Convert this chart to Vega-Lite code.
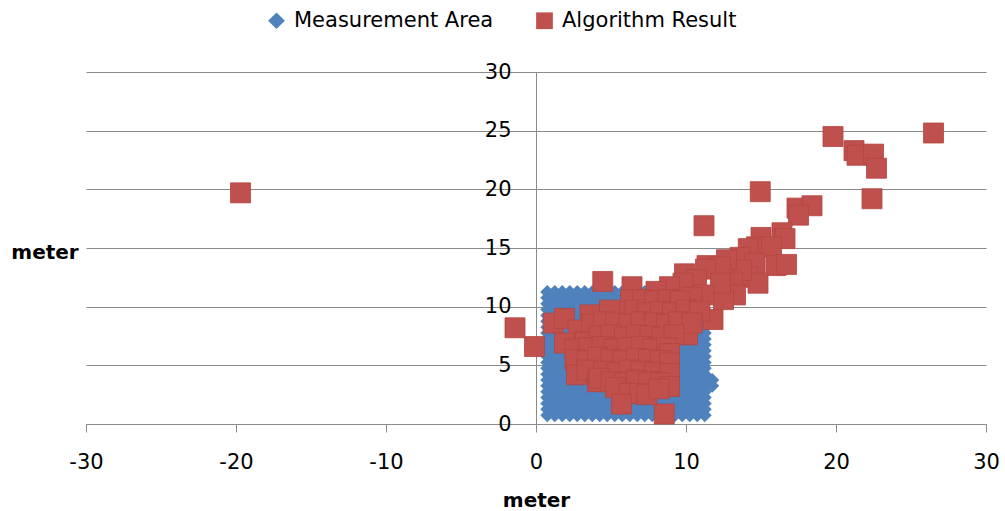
{
"$schema": "https://vega.github.io/schema/vega-lite/v6.json",
"width": 900, "height": 352,
"autosize": {"type": "none"},
"padding": {"left": 86, "top": 72, "right": 19, "bottom": 87},
"background": "white",
"config": {"view": {"stroke": null}, "font": "DejaVu Sans",
 "legend": {"orient": "none", "legendX": 180, "legendY": -62, "direction": "horizontal", "title": null, "symbolSize": 280, "labelFontSize": 21, "labelFont": "DejaVu Sans", "labelColor": "#000000", "labelOffset": 7, "labelLimit": 0, "columnPadding": 40, "padding": 0, "symbolStrokeWidth": 0, "symbolOpacity": 1}},
"datasets": {
"area": [
{"x":0.75,"y":0.75},{"x":1.25,"y":0.75},{"x":1.75,"y":0.75},{"x":2.25,"y":0.75},{"x":2.75,"y":0.75},{"x":3.25,"y":0.75},{"x":3.75,"y":0.75},{"x":4.25,"y":0.75},{"x":4.75,"y":0.75},{"x":5.25,"y":0.75},{"x":5.75,"y":0.75},{"x":6.25,"y":0.75},{"x":6.75,"y":0.75},{"x":7.25,"y":0.75},{"x":7.75,"y":0.75},{"x":8.25,"y":0.75},{"x":8.75,"y":0.75},{"x":9.25,"y":0.75},{"x":9.75,"y":0.75},{"x":10.25,"y":0.75},{"x":10.75,"y":0.75},{"x":11.25,"y":0.75},
{"x":0.75,"y":1.25},{"x":1.25,"y":1.25},{"x":1.75,"y":1.25},{"x":2.25,"y":1.25},{"x":2.75,"y":1.25},{"x":3.25,"y":1.25},{"x":3.75,"y":1.25},{"x":4.25,"y":1.25},{"x":4.75,"y":1.25},{"x":5.25,"y":1.25},{"x":5.75,"y":1.25},{"x":6.25,"y":1.25},{"x":6.75,"y":1.25},{"x":7.25,"y":1.25},{"x":7.75,"y":1.25},{"x":8.25,"y":1.25},{"x":8.75,"y":1.25},{"x":9.25,"y":1.25},{"x":9.75,"y":1.25},{"x":10.25,"y":1.25},{"x":10.75,"y":1.25},{"x":11.25,"y":1.25},
{"x":0.75,"y":1.75},{"x":1.25,"y":1.75},{"x":1.75,"y":1.75},{"x":2.25,"y":1.75},{"x":2.75,"y":1.75},{"x":3.25,"y":1.75},{"x":3.75,"y":1.75},{"x":4.25,"y":1.75},{"x":4.75,"y":1.75},{"x":5.25,"y":1.75},{"x":5.75,"y":1.75},{"x":6.25,"y":1.75},{"x":6.75,"y":1.75},{"x":7.25,"y":1.75},{"x":7.75,"y":1.75},{"x":8.25,"y":1.75},{"x":8.75,"y":1.75},{"x":9.25,"y":1.75},{"x":9.75,"y":1.75},{"x":10.25,"y":1.75},{"x":10.75,"y":1.75},{"x":11.25,"y":1.75},
{"x":0.75,"y":2.25},{"x":1.25,"y":2.25},{"x":1.75,"y":2.25},{"x":2.25,"y":2.25},{"x":2.75,"y":2.25},{"x":3.25,"y":2.25},{"x":3.75,"y":2.25},{"x":4.25,"y":2.25},{"x":4.75,"y":2.25},{"x":5.25,"y":2.25},{"x":5.75,"y":2.25},{"x":6.25,"y":2.25},{"x":6.75,"y":2.25},{"x":7.25,"y":2.25},{"x":7.75,"y":2.25},{"x":8.25,"y":2.25},{"x":8.75,"y":2.25},{"x":9.25,"y":2.25},{"x":9.75,"y":2.25},{"x":10.25,"y":2.25},{"x":10.75,"y":2.25},{"x":11.25,"y":2.25},
{"x":0.75,"y":2.75},{"x":1.25,"y":2.75},{"x":1.75,"y":2.75},{"x":2.25,"y":2.75},{"x":2.75,"y":2.75},{"x":3.25,"y":2.75},{"x":3.75,"y":2.75},{"x":4.25,"y":2.75},{"x":4.75,"y":2.75},{"x":5.25,"y":2.75},{"x":5.75,"y":2.75},{"x":6.25,"y":2.75},{"x":6.75,"y":2.75},{"x":7.25,"y":2.75},{"x":7.75,"y":2.75},{"x":8.25,"y":2.75},{"x":8.75,"y":2.75},{"x":9.25,"y":2.75},{"x":9.75,"y":2.75},{"x":10.25,"y":2.75},{"x":10.75,"y":2.75},{"x":11.25,"y":2.75},
{"x":0.75,"y":3.25},{"x":1.25,"y":3.25},{"x":1.75,"y":3.25},{"x":2.25,"y":3.25},{"x":2.75,"y":3.25},{"x":3.25,"y":3.25},{"x":3.75,"y":3.25},{"x":4.25,"y":3.25},{"x":4.75,"y":3.25},{"x":5.25,"y":3.25},{"x":5.75,"y":3.25},{"x":6.25,"y":3.25},{"x":6.75,"y":3.25},{"x":7.25,"y":3.25},{"x":7.75,"y":3.25},{"x":8.25,"y":3.25},{"x":8.75,"y":3.25},{"x":9.25,"y":3.25},{"x":9.75,"y":3.25},{"x":10.25,"y":3.25},{"x":10.75,"y":3.25},{"x":11.25,"y":3.25},
{"x":0.75,"y":3.75},{"x":1.25,"y":3.75},{"x":1.75,"y":3.75},{"x":2.25,"y":3.75},{"x":2.75,"y":3.75},{"x":3.25,"y":3.75},{"x":3.75,"y":3.75},{"x":4.25,"y":3.75},{"x":4.75,"y":3.75},{"x":5.25,"y":3.75},{"x":5.75,"y":3.75},{"x":6.25,"y":3.75},{"x":6.75,"y":3.75},{"x":7.25,"y":3.75},{"x":7.75,"y":3.75},{"x":8.25,"y":3.75},{"x":8.75,"y":3.75},{"x":9.25,"y":3.75},{"x":9.75,"y":3.75},{"x":10.25,"y":3.75},{"x":10.75,"y":3.75},{"x":11.25,"y":3.75},
{"x":0.75,"y":4.25},{"x":1.25,"y":4.25},{"x":1.75,"y":4.25},{"x":2.25,"y":4.25},{"x":2.75,"y":4.25},{"x":3.25,"y":4.25},{"x":3.75,"y":4.25},{"x":4.25,"y":4.25},{"x":4.75,"y":4.25},{"x":5.25,"y":4.25},{"x":5.75,"y":4.25},{"x":6.25,"y":4.25},{"x":6.75,"y":4.25},{"x":7.25,"y":4.25},{"x":7.75,"y":4.25},{"x":8.25,"y":4.25},{"x":8.75,"y":4.25},{"x":9.25,"y":4.25},{"x":9.75,"y":4.25},{"x":10.25,"y":4.25},{"x":10.75,"y":4.25},{"x":11.25,"y":4.25},
{"x":0.75,"y":4.75},{"x":1.25,"y":4.75},{"x":1.75,"y":4.75},{"x":2.25,"y":4.75},{"x":2.75,"y":4.75},{"x":3.25,"y":4.75},{"x":3.75,"y":4.75},{"x":4.25,"y":4.75},{"x":4.75,"y":4.75},{"x":5.25,"y":4.75},{"x":5.75,"y":4.75},{"x":6.25,"y":4.75},{"x":6.75,"y":4.75},{"x":7.25,"y":4.75},{"x":7.75,"y":4.75},{"x":8.25,"y":4.75},{"x":8.75,"y":4.75},{"x":9.25,"y":4.75},{"x":9.75,"y":4.75},{"x":10.25,"y":4.75},{"x":10.75,"y":4.75},{"x":11.25,"y":4.75},
{"x":0.75,"y":5.25},{"x":1.25,"y":5.25},{"x":1.75,"y":5.25},{"x":2.25,"y":5.25},{"x":2.75,"y":5.25},{"x":3.25,"y":5.25},{"x":3.75,"y":5.25},{"x":4.25,"y":5.25},{"x":4.75,"y":5.25},{"x":5.25,"y":5.25},{"x":5.75,"y":5.25},{"x":6.25,"y":5.25},{"x":6.75,"y":5.25},{"x":7.25,"y":5.25},{"x":7.75,"y":5.25},{"x":8.25,"y":5.25},{"x":8.75,"y":5.25},{"x":9.25,"y":5.25},{"x":9.75,"y":5.25},{"x":10.25,"y":5.25},{"x":10.75,"y":5.25},{"x":11.25,"y":5.25},
{"x":0.75,"y":5.75},{"x":1.25,"y":5.75},{"x":1.75,"y":5.75},{"x":2.25,"y":5.75},{"x":2.75,"y":5.75},{"x":3.25,"y":5.75},{"x":3.75,"y":5.75},{"x":4.25,"y":5.75},{"x":4.75,"y":5.75},{"x":5.25,"y":5.75},{"x":5.75,"y":5.75},{"x":6.25,"y":5.75},{"x":6.75,"y":5.75},{"x":7.25,"y":5.75},{"x":7.75,"y":5.75},{"x":8.25,"y":5.75},{"x":8.75,"y":5.75},{"x":9.25,"y":5.75},{"x":9.75,"y":5.75},{"x":10.25,"y":5.75},{"x":10.75,"y":5.75},{"x":11.25,"y":5.75},
{"x":0.75,"y":6.25},{"x":1.25,"y":6.25},{"x":1.75,"y":6.25},{"x":2.25,"y":6.25},{"x":2.75,"y":6.25},{"x":3.25,"y":6.25},{"x":3.75,"y":6.25},{"x":4.25,"y":6.25},{"x":4.75,"y":6.25},{"x":5.25,"y":6.25},{"x":5.75,"y":6.25},{"x":6.25,"y":6.25},{"x":6.75,"y":6.25},{"x":7.25,"y":6.25},{"x":7.75,"y":6.25},{"x":8.25,"y":6.25},{"x":8.75,"y":6.25},{"x":9.25,"y":6.25},{"x":9.75,"y":6.25},{"x":10.25,"y":6.25},{"x":10.75,"y":6.25},{"x":11.25,"y":6.25},
{"x":0.75,"y":6.75},{"x":1.25,"y":6.75},{"x":1.75,"y":6.75},{"x":2.25,"y":6.75},{"x":2.75,"y":6.75},{"x":3.25,"y":6.75},{"x":3.75,"y":6.75},{"x":4.25,"y":6.75},{"x":4.75,"y":6.75},{"x":5.25,"y":6.75},{"x":5.75,"y":6.75},{"x":6.25,"y":6.75},{"x":6.75,"y":6.75},{"x":7.25,"y":6.75},{"x":7.75,"y":6.75},{"x":8.25,"y":6.75},{"x":8.75,"y":6.75},{"x":9.25,"y":6.75},{"x":9.75,"y":6.75},{"x":10.25,"y":6.75},{"x":10.75,"y":6.75},{"x":11.25,"y":6.75},
{"x":0.75,"y":7.25},{"x":1.25,"y":7.25},{"x":1.75,"y":7.25},{"x":2.25,"y":7.25},{"x":2.75,"y":7.25},{"x":3.25,"y":7.25},{"x":3.75,"y":7.25},{"x":4.25,"y":7.25},{"x":4.75,"y":7.25},{"x":5.25,"y":7.25},{"x":5.75,"y":7.25},{"x":6.25,"y":7.25},{"x":6.75,"y":7.25},{"x":7.25,"y":7.25},{"x":7.75,"y":7.25},{"x":8.25,"y":7.25},{"x":8.75,"y":7.25},{"x":9.25,"y":7.25},{"x":9.75,"y":7.25},{"x":10.25,"y":7.25},{"x":10.75,"y":7.25},{"x":11.25,"y":7.25},
{"x":0.75,"y":7.75},{"x":1.25,"y":7.75},{"x":1.75,"y":7.75},{"x":2.25,"y":7.75},{"x":2.75,"y":7.75},{"x":3.25,"y":7.75},{"x":3.75,"y":7.75},{"x":4.25,"y":7.75},{"x":4.75,"y":7.75},{"x":5.25,"y":7.75},{"x":5.75,"y":7.75},{"x":6.25,"y":7.75},{"x":6.75,"y":7.75},{"x":7.25,"y":7.75},{"x":7.75,"y":7.75},{"x":8.25,"y":7.75},{"x":8.75,"y":7.75},{"x":9.25,"y":7.75},{"x":9.75,"y":7.75},{"x":10.25,"y":7.75},{"x":10.75,"y":7.75},{"x":11.25,"y":7.75},
{"x":0.75,"y":8.25},{"x":1.25,"y":8.25},{"x":1.75,"y":8.25},{"x":2.25,"y":8.25},{"x":2.75,"y":8.25},{"x":3.25,"y":8.25},{"x":3.75,"y":8.25},{"x":4.25,"y":8.25},{"x":4.75,"y":8.25},{"x":5.25,"y":8.25},{"x":5.75,"y":8.25},{"x":6.25,"y":8.25},{"x":6.75,"y":8.25},{"x":7.25,"y":8.25},{"x":7.75,"y":8.25},{"x":8.25,"y":8.25},{"x":8.75,"y":8.25},{"x":9.25,"y":8.25},{"x":9.75,"y":8.25},{"x":10.25,"y":8.25},{"x":10.75,"y":8.25},{"x":11.25,"y":8.25},
{"x":0.75,"y":8.75},{"x":1.25,"y":8.75},{"x":1.75,"y":8.75},{"x":2.25,"y":8.75},{"x":2.75,"y":8.75},{"x":3.25,"y":8.75},{"x":3.75,"y":8.75},{"x":4.25,"y":8.75},{"x":4.75,"y":8.75},{"x":5.25,"y":8.75},{"x":5.75,"y":8.75},{"x":6.25,"y":8.75},{"x":6.75,"y":8.75},{"x":7.25,"y":8.75},{"x":7.75,"y":8.75},{"x":8.25,"y":8.75},{"x":8.75,"y":8.75},{"x":9.25,"y":8.75},{"x":9.75,"y":8.75},{"x":10.25,"y":8.75},{"x":10.75,"y":8.75},{"x":11.25,"y":8.75},
{"x":0.75,"y":9.25},{"x":1.25,"y":9.25},{"x":1.75,"y":9.25},{"x":2.25,"y":9.25},{"x":2.75,"y":9.25},{"x":3.25,"y":9.25},{"x":3.75,"y":9.25},{"x":4.25,"y":9.25},{"x":4.75,"y":9.25},{"x":5.25,"y":9.25},{"x":5.75,"y":9.25},{"x":6.25,"y":9.25},{"x":6.75,"y":9.25},{"x":7.25,"y":9.25},{"x":7.75,"y":9.25},{"x":8.25,"y":9.25},{"x":8.75,"y":9.25},{"x":9.25,"y":9.25},{"x":9.75,"y":9.25},{"x":10.25,"y":9.25},{"x":10.75,"y":9.25},{"x":11.25,"y":9.25},
{"x":0.75,"y":9.75},{"x":1.25,"y":9.75},{"x":1.75,"y":9.75},{"x":2.25,"y":9.75},{"x":2.75,"y":9.75},{"x":3.25,"y":9.75},{"x":3.75,"y":9.75},{"x":4.25,"y":9.75},{"x":4.75,"y":9.75},{"x":5.25,"y":9.75},{"x":5.75,"y":9.75},{"x":6.25,"y":9.75},{"x":6.75,"y":9.75},{"x":7.25,"y":9.75},{"x":7.75,"y":9.75},{"x":8.25,"y":9.75},{"x":8.75,"y":9.75},{"x":9.25,"y":9.75},{"x":9.75,"y":9.75},{"x":10.25,"y":9.75},{"x":10.75,"y":9.75},{"x":11.25,"y":9.75},
{"x":0.75,"y":10.25},{"x":1.25,"y":10.25},{"x":1.75,"y":10.25},{"x":2.25,"y":10.25},{"x":2.75,"y":10.25},{"x":3.25,"y":10.25},{"x":3.75,"y":10.25},{"x":4.25,"y":10.25},{"x":4.75,"y":10.25},{"x":5.25,"y":10.25},{"x":5.75,"y":10.25},{"x":6.25,"y":10.25},{"x":6.75,"y":10.25},{"x":7.25,"y":10.25},{"x":7.75,"y":10.25},{"x":8.25,"y":10.25},{"x":8.75,"y":10.25},{"x":9.25,"y":10.25},{"x":9.75,"y":10.25},{"x":10.25,"y":10.25},{"x":10.75,"y":10.25},{"x":11.25,"y":10.25},
{"x":0.75,"y":10.75},{"x":1.25,"y":10.75},{"x":1.75,"y":10.75},{"x":2.25,"y":10.75},{"x":2.75,"y":10.75},{"x":3.25,"y":10.75},{"x":3.75,"y":10.75},{"x":4.25,"y":10.75},{"x":4.75,"y":10.75},{"x":5.25,"y":10.75},{"x":5.75,"y":10.75},{"x":6.25,"y":10.75},{"x":6.75,"y":10.75},{"x":7.25,"y":10.75},{"x":7.75,"y":10.75},{"x":8.25,"y":10.75},{"x":8.75,"y":10.75},{"x":9.25,"y":10.75},{"x":9.75,"y":10.75},{"x":10.25,"y":10.75},{"x":10.75,"y":10.75},{"x":11.25,"y":10.75},
{"x":0.75,"y":11.25},{"x":1.25,"y":11.25},{"x":1.75,"y":11.25},{"x":2.25,"y":11.25},{"x":2.75,"y":11.25},{"x":3.25,"y":11.25},{"x":3.75,"y":11.25},{"x":4.25,"y":11.25},{"x":4.75,"y":11.25},{"x":5.25,"y":11.25},{"x":5.75,"y":11.25},{"x":6.25,"y":11.25},{"x":6.75,"y":11.25},{"x":7.25,"y":11.25},{"x":7.75,"y":11.25},{"x":8.25,"y":11.25},{"x":8.75,"y":11.25},{"x":9.25,"y":11.25},{"x":9.75,"y":11.25},{"x":10.25,"y":11.25},{"x":10.75,"y":11.25},{"x":11.25,"y":11.25},
{"x":11.75,"y":3.25},{"x":11.75,"y":3.75}
],
"result": [
{"x":-19.7,"y":19.7},{"x":-1.4,"y":8.2},{"x":-0.1,"y":6.6},{"x":4.45,"y":12.15},{"x":11.2,"y":16.9},{"x":14.95,"y":19.8},{"x":19.8,"y":24.5},{"x":26.5,"y":24.8},{"x":21.2,"y":23.3},{"x":21.4,"y":22.9},{"x":22.5,"y":23.0},{"x":22.7,"y":21.8},{"x":22.4,"y":19.2},{"x":17.4,"y":18.4},{"x":18.4,"y":18.6},{"x":17.5,"y":17.8},{"x":16.4,"y":16.3},{"x":16.6,"y":15.8},{"x":15.0,"y":15.9},{"x":14.7,"y":15.1},{"x":15.7,"y":15.1},{"x":14.15,"y":14.95},{"x":13.6,"y":14.2},{"x":14.6,"y":13.7},{"x":16.0,"y":13.5},{"x":16.7,"y":13.6},{"x":14.1,"y":12.5},{"x":14.8,"y":12.0},{"x":13.7,"y":13.1},{"x":13.1,"y":12.1},{"x":12.7,"y":14.0},{"x":11.4,"y":13.5},{"x":12.3,"y":13.4},{"x":11.3,"y":13.2},{"x":13.3,"y":11.0},{"x":12.5,"y":10.6},{"x":12.3,"y":12.0},{"x":9.9,"y":12.8},{"x":10.7,"y":12.3},{"x":9.8,"y":12.0},{"x":8.9,"y":11.7},{"x":8.0,"y":11.3},{"x":6.4,"y":11.7},{"x":11.2,"y":11.0},{"x":10.4,"y":10.8},{"x":11.8,"y":8.9},{"x":10.1,"y":7.6},
{"x":6.3,"y":10.6},{"x":7.1,"y":10.6},{"x":7.9,"y":10.5},{"x":8.8,"y":10.6},{"x":9.6,"y":10.5},
{"x":5.7,"y":9.6},{"x":6.6,"y":9.7},{"x":7.4,"y":9.5},{"x":8.3,"y":9.6},{"x":9.1,"y":9.5},{"x":10.0,"y":9.7},{"x":10.9,"y":9.6},
{"x":1.15,"y":8.6},{"x":1.9,"y":9.0},{"x":3.6,"y":9.3},{"x":4.9,"y":9.7},{"x":2.8,"y":8.0},
{"x":3.7,"y":8.5},{"x":4.5,"y":8.7},{"x":5.3,"y":8.6},{"x":6.2,"y":8.5},{"x":7.0,"y":8.7},{"x":7.9,"y":8.6},{"x":8.7,"y":8.5},{"x":9.5,"y":8.7},{"x":10.4,"y":8.6},
{"x":3.3,"y":7.0},{"x":4.2,"y":7.5},{"x":5.0,"y":7.6},{"x":5.9,"y":7.4},{"x":6.7,"y":7.6},{"x":7.6,"y":7.5},{"x":8.4,"y":7.4},{"x":9.2,"y":7.6},
{"x":1.9,"y":6.9},{"x":2.6,"y":6.4},{"x":3.5,"y":6.5},{"x":4.4,"y":6.6},{"x":5.2,"y":6.4},{"x":6.1,"y":6.5},{"x":7.0,"y":6.6},{"x":7.8,"y":6.4},{"x":8.7,"y":6.5},{"x":8.9,"y":6.0},
{"x":2.6,"y":5.5},{"x":3.4,"y":5.4},{"x":4.1,"y":5.7},{"x":5.0,"y":5.5},{"x":5.8,"y":5.4},{"x":6.7,"y":5.6},{"x":7.5,"y":5.5},{"x":8.3,"y":5.4},{"x":8.9,"y":5.2},
{"x":2.7,"y":4.2},{"x":3.4,"y":4.6},{"x":4.5,"y":4.5},{"x":5.4,"y":4.4},{"x":6.2,"y":4.6},{"x":7.0,"y":4.5},{"x":7.9,"y":4.4},{"x":8.9,"y":4.3},
{"x":4.1,"y":3.6},{"x":4.2,"y":3.9},{"x":5.0,"y":3.6},{"x":5.9,"y":3.5},{"x":6.7,"y":3.7},{"x":7.5,"y":3.6},{"x":8.3,"y":3.5},{"x":8.9,"y":3.2},
{"x":5.3,"y":3.1},{"x":6.2,"y":2.6},{"x":6.9,"y":2.6},{"x":7.4,"y":2.5},{"x":8.2,"y":3.0},
{"x":5.7,"y":1.7},{"x":8.55,"y":0.85}
]
},
"encoding": {
 "x": {"field": "x", "type": "quantitative",
  "scale": {"domain": [-30, 30], "nice": false, "zero": false},
  "axis": {"orient": "bottom", "values": [-30, -20, -10, 0, 10, 20, 30], "grid": false,
   "domainColor": "#8A8A8A", "domainWidth": 1, "tickColor": "#8A8A8A", "tickSize": 8, "tickWidth": 1,
   "labelFont": "DejaVu Sans", "labelFontSize": 21, "labelColor": "#000000", "labelPadding": 19, "labelAngle": 0,
   "labelFlush": false, "labelOverlap": false, "labelExpr": "datum.value + ''",
   "title": "meter", "titleFont": "DejaVu Sans", "titleFontSize": 20, "titleFontWeight": "bold", "titleColor": "#000000",
   "titleX": 450, "titleY": 82, "titleAlign": "center", "titleBaseline": "alphabetic"}},
 "y": {"field": "y", "type": "quantitative",
  "scale": {"domain": [0, 30], "nice": false, "zero": false},
  "axis": {"orient": "left", "offset": -450, "values": [0, 5, 10, 15, 20, 25, 30], "grid": true,
   "gridColor": "#8A8A8A", "gridWidth": 1, "domainColor": "#8A8A8A", "domainWidth": 1, "tickColor": "#8A8A8A", "tickSize": 5, "tickWidth": 1,
   "labelFont": "DejaVu Sans", "labelFontSize": 21, "labelColor": "#000000", "labelPadding": 20, "labelFlush": false, "labelOverlap": false,
   "title": "meter", "titleFont": "DejaVu Sans", "titleFontSize": 20, "titleFontWeight": "bold", "titleColor": "#000000",
   "titleAngle": 0, "titleX": -491.5, "titleY": 186, "titleAlign": "center", "titleBaseline": "alphabetic"}}
},
"layer": [
 {"data": {"name": "area"},
  "mark": {"type": "point", "filled": true, "opacity": 1, "size": 196, "strokeWidth": 0},
  "encoding": {
   "color": {"datum": "Measurement Area", "type": "nominal",
    "scale": {"domain": ["Measurement Area", "Algorithm Result"], "range": ["#4F81BD", "#C0504D"]},
    "legend": {"labelLimit": 0}},
   "shape": {"datum": "Measurement Area", "type": "nominal",
    "scale": {"domain": ["Measurement Area", "Algorithm Result"], "range": ["diamond", "square"]},
    "legend": {"labelLimit": 0}}}},
 {"data": {"name": "result"},
  "mark": {"type": "point", "filled": true, "opacity": 1, "size": 400, "stroke": "#B4453F", "strokeWidth": 0.8},
  "encoding": {
   "color": {"datum": "Algorithm Result", "type": "nominal"},
   "shape": {"datum": "Algorithm Result", "type": "nominal"}}}
]
}
